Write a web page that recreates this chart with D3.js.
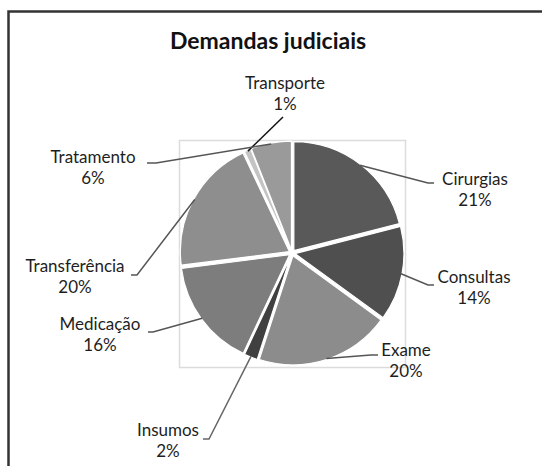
<!DOCTYPE html>
<html>
<head>
<meta charset="utf-8">
<script src="https://cdn.jsdelivr.net/npm/d3@7"></script>
<style>
  body { margin: 0; background: #fff; }
  text { font-family: Lato, "Open Sans", sans-serif; fill: #1e1e1e; }
</style>
</head>
<body>
<div id="chart"></div>
<script>
const categories = ["Cirurgias", "Consultas", "Exame", "Insumos", "Medicação", "Transferência", "Transporte", "Tratamento"]
const values = [21, 14, 20, 2, 16, 20, 1, 6]
const fills = ["#595959", "#4f4f4f", "#8c8c8c", "#404040", "#7d7d7d", "#8e8e8e", "#c4c4c4", "#9a9a9a"]

// label placement: text centre x, first baseline y, and where the leader leaves the label
const labelLayout = {
  "Transporte":    { x: 285, y: 89,  from: [283, 117], elbow: null,       color: "#111" },
  "Tratamento":    { x: 93,  y: 163, from: [147, 163], elbow: [156, 163], color: "#555" },
  "Transferência": { x: 75,  y: 272, from: [131, 275], elbow: [137, 275], color: "#555" },
  "Medicação":     { x: 100, y: 330, from: [148, 332], elbow: [153, 332], color: "#555" },
  "Insumos":       { x: 168, y: 436, from: [203, 439], elbow: [209, 439], color: "#666" },
  "Exame":         { x: 406, y: 356, from: [378, 355], elbow: [371, 355], color: "#555" },
  "Cirurgias":     { x: 475, y: 185, from: [434, 183], elbow: [428, 183], color: "#555" },
  "Consultas":     { x: 474, y: 283, from: [434, 285], elbow: [428, 285], color: "#555" }
}

const width = 542, height = 466
const cx = 292, cy = 253, radius = 109, explode = 3

const svg = d3.select("#chart")
              .append("svg")
              .attr("width", width)
              .attr("height", height)

// outer frame
svg.append("rect")
   .attr("x", 8.5).attr("y", 11.5)
   .attr("width", 560).attr("height", 480)
   .attr("fill", "#fff")
   .attr("stroke", "#333")
   .attr("stroke-width", 2.5)

svg.append("text")
   .attr("x", 268).attr("y", 49)
   .attr("text-anchor", "middle")
   .style("font-size", "23px")
   .style("font-weight", "bold")
   .style("fill", "#111")
   .text("Demandas judiciais")

// plot area box
svg.append("rect")
   .attr("x", 179.5).attr("y", 140.5)
   .attr("width", 226).attr("height", 227)
   .attr("fill", "none")
   .attr("stroke", "#dcdcdc")
   .attr("stroke-width", 1.5)

const data = categories.map((c, i) => ({ name: c, value: values[i], fill: fills[i] }))
const pie = d3.pie().value(d => d.value).sort(null)
const arcs = pie(data)
const arc = d3.arc().innerRadius(0).outerRadius(radius)

const offset = a => {
  const mid = (a.startAngle + a.endAngle) / 2
  return [Math.sin(mid) * explode, -Math.cos(mid) * explode]
}

const g = svg.append("g").attr("transform", "translate(" + cx + "," + cy + ")")
g.selectAll("path")
 .data(arcs)
 .join("path")
 .attr("d", arc)
 .attr("transform", d => "translate(" + offset(d) + ")")
 .attr("fill", d => d.data.fill)
 .attr("stroke", "#fff")
 .attr("stroke-width", 1.2)

// leader lines + labels
const total = d3.sum(values)
arcs.forEach(a => {
  const L = labelLayout[a.data.name]
  const mid = (a.startAngle + a.endAngle) / 2
  const r = radius + explode - 1
  const tip = [cx + Math.sin(mid) * r, cy - Math.cos(mid) * r]
  const pts = [L.from]
  if (L.elbow) pts.push(L.elbow)
  pts.push(tip)
  svg.append("path")
     .attr("d", d3.line()(pts))
     .attr("fill", "none")
     .attr("stroke", L.color)
     .attr("stroke-width", 1.5)
  const t = svg.append("text")
     .attr("text-anchor", "middle")
     .style("font-size", "17px")
  t.append("tspan").attr("x", L.x).attr("y", L.y).text(a.data.name)
  t.append("tspan").attr("x", L.x).attr("y", L.y + 21).text(Math.round(a.data.value / total * 100) + "%")
})
</script>
</body>
</html>
